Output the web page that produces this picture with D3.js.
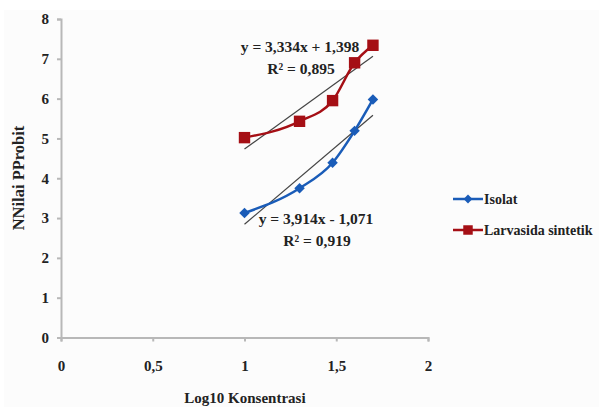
<!doctype html>
<html lang="en">
<head>
<meta charset="utf-8">
<title>Probit</title>
<script src="https://cdn.jsdelivr.net/npm/d3@7"></script>
<style>
  body { margin: 0; background: #fff; }
  text { font-family: "Liberation Serif", "Times New Roman", serif !important; font-weight: bold; fill: #222; }
</style>
</head>
<body>
<svg id="chart" width="599" height="407"></svg>
<script>
// data
var xs = [1, 1.3, 1.48, 1.6, 1.7];
var isolat = [3.13, 3.75, 4.39, 5.19, 5.98];
var larvasida = [5.02, 5.43, 5.95, 6.9, 7.34];
var xTicks = [0, 0.5, 1, 1.5, 2];
var yTicks = [0, 1, 2, 3, 4, 5, 6, 7, 8];
var seriesNames = ["Isolat", "Larvasida sintetik"];
var fits = [[3.914, -1.071, "y = 3,914x - 1,071", "R² = 0,919"],
            [3.334, 1.398, "y = 3,334x + 1,398", "R² = 0,895"]];

var svg = d3.select("#chart");
svg.append("rect").attr("x", 4).attr("y", 10).attr("width", 595).attr("height", 397).attr("fill", "#fcfcfc");

var x = d3.scaleLinear().domain([0, 2]).range([61, 428]);
var y = d3.scaleLinear().domain([0, 8]).range([337.5, 19]);
var fmt = function(d) { return String(d).replace(".", ","); };

var xAxis = svg.append("g").attr("transform", "translate(0," + y(0) + ")")
    .call(d3.axisBottom(x).tickValues(xTicks).tickFormat(fmt).tickSize(4).tickPadding(19));
var yAxis = svg.append("g").attr("transform", "translate(" + x(0) + ",0)")
    .call(d3.axisLeft(y).tickValues(yTicks).tickSize(4).tickPadding(8));
[xAxis, yAxis].forEach(function(a) {
  a.selectAll("path, line").attr("stroke", "#b8b8b8").attr("stroke-width", 2);
  a.selectAll("text").style("font-size", "15px").attr("fill", "#222");
});

svg.append("text").attr("x", 245).attr("y", 403).attr("text-anchor", "middle")
  .style("font-size", "15px").text("Log10 Konsentrasi");
svg.append("text").attr("transform", "translate(24,178) rotate(-90)").attr("text-anchor", "middle")
  .style("font-size", "16.5px").text("NNilai PProbit");

// trend lines
fits.forEach(function(f) {
  svg.append("line").attr("x1", x(1)).attr("y1", y(f[0] * 1 + f[1]))
    .attr("x2", x(1.7)).attr("y2", y(f[0] * 1.7 + f[1]))
    .attr("stroke", "#444").attr("stroke-width", 1.2);
});

var colors = ["#1a5cb8", "#a50f15"];
var line = d3.line().curve(d3.curveMonotoneX)
  .x(function(d, i) { return x(xs[i]); }).y(function(d) { return y(d); });

[isolat, larvasida].forEach(function(s, k) {
  svg.append("path").datum(s).attr("d", line).attr("fill", "none")
    .attr("stroke", colors[k]).attr("stroke-width", 2.5);
  var sym = k === 0 ? d3.symbol().type(d3.symbolDiamond2).size(70) : d3.symbol().type(d3.symbolSquare).size(130);
  svg.selectAll(".m" + k).data(s).enter().append("path")
    .attr("transform", function(d, i) { return "translate(" + x(xs[i]) + "," + y(d) + ")"; })
    .attr("d", sym).attr("fill", colors[k]);
});

// equations
svg.append("text").attr("x", 300).attr("y", 52).attr("text-anchor", "middle").style("font-size", "15.5px").text(fits[1][2]);
svg.append("text").attr("x", 301).attr("y", 74).attr("text-anchor", "middle").style("font-size", "15.5px").text(fits[1][3]);
svg.append("text").attr("x", 316).attr("y", 224).attr("text-anchor", "middle").style("font-size", "15.5px").text(fits[0][2]);
svg.append("text").attr("x", 317).attr("y", 246).attr("text-anchor", "middle").style("font-size", "15.5px").text(fits[0][3]);

// legend
seriesNames.forEach(function(n, k) {
  var ly = [199, 230][k];
  var g = svg.append("g");
  g.append("line").attr("x1", 453).attr("x2", 483).attr("y1", ly).attr("y2", ly)
    .attr("stroke", colors[k]).attr("stroke-width", 2.5);
  g.append("path").attr("transform", "translate(468," + ly + ")")
    .attr("d", k === 0 ? d3.symbol().type(d3.symbolDiamond2).size(50)() : d3.symbol().type(d3.symbolSquare).size(90)())
    .attr("fill", colors[k]);
  g.append("text").attr("x", 484).attr("y", ly + 5).style("font-size", "14px").text(n);
});
</script>
</body>
</html>
